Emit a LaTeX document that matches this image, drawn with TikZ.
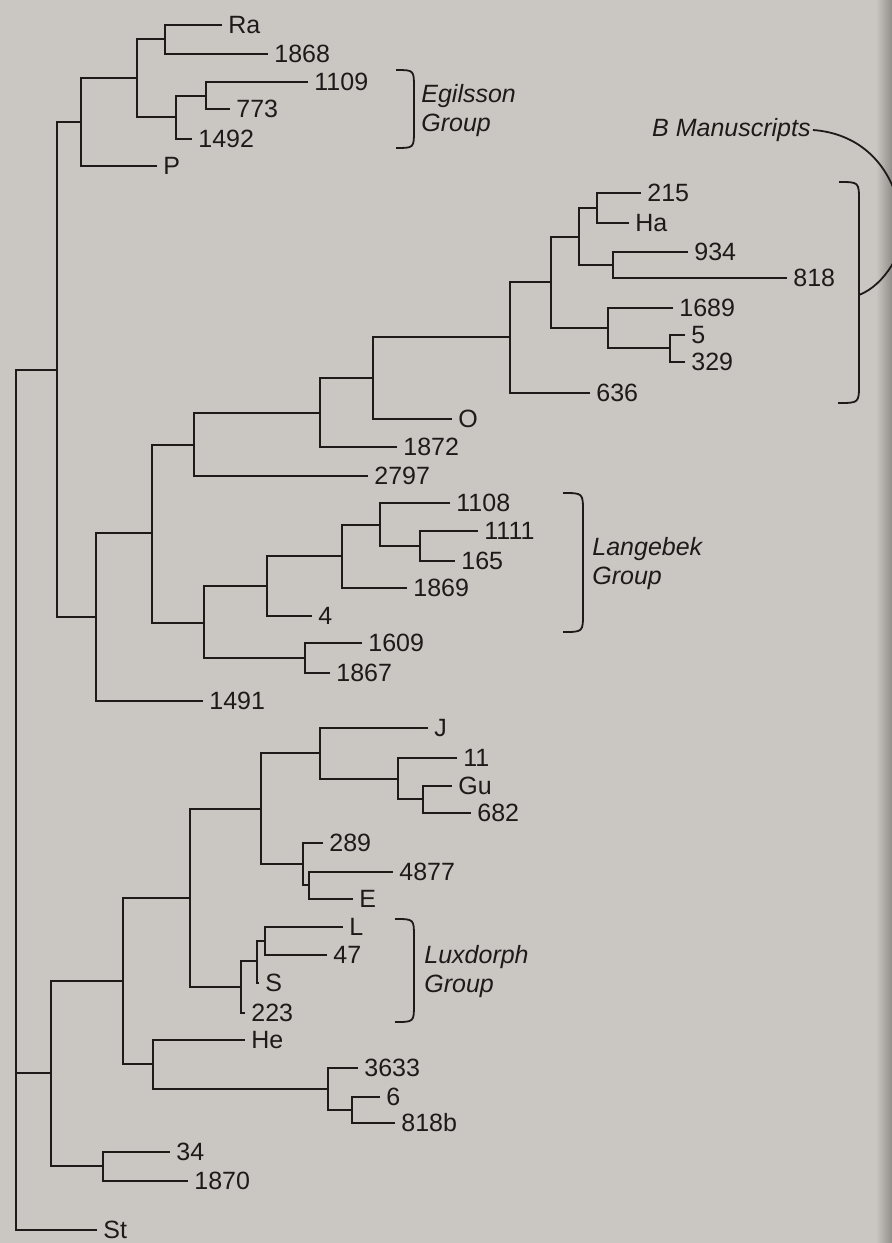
\documentclass[tikz,border=0pt]{standalone}
\usepackage{fontspec}
\setmainfont{Liberation Sans}
\definecolor{paper}{RGB}{202,198,193}
\definecolor{ink}{RGB}{30,26,26}

\begin{document}
\begin{tikzpicture}[x=0.5pt, y=-0.5pt,
  branch/.style={draw=ink, line width=1pt},
  ms/.style={anchor=west, inner xsep=3pt, inner ysep=0pt, text=ink,
             font=\fontsize{12.5}{15}\selectfont, text height=8.95pt, text depth=0pt},
  grp/.style={anchor=west, inner xsep=3pt, inner ysep=0pt, align=left, text=ink,
              font=\fontsize{12.5}{14.5}\selectfont\itshape},
  brace/.style={draw=ink, line width=0.9pt}
]
% paper
\fill[paper] (0,0) rectangle (892,1243);
\shade[left color=paper, right color=paper!72!black] (876,0) rectangle (892,1243);
\clip (0,0) rectangle (892,1243);

% inner forks, upper half
\coordinate (root) at (16,803);
\coordinate (nUp) at (57,370);
\coordinate (nP) at (81,122);
\coordinate (nA) at (137,78);
\coordinate (nRa) at (165,39);
\coordinate (nEg) at (176,117);
\coordinate (n1109) at (206,96);
\coordinate (nBig) at (96,617);
\coordinate (nMid) at (152,533);
\coordinate (nO) at (194,445);
\coordinate (n1872) at (320,413);
\coordinate (nOO) at (373,378);
\coordinate (nB) at (510,337);
\coordinate (nB1) at (551,282);
\coordinate (nB2) at (579,237);
\coordinate (n215) at (597,208);
\coordinate (n934) at (613,265);
\coordinate (n1689) at (608,328);
\coordinate (n5) at (670,348);
\coordinate (nLg) at (204,623);
\coordinate (nLg1) at (267,586);
\coordinate (nLg2) at (342,556);
\coordinate (nLg3) at (380,525);
\coordinate (n1111) at (420,546);
\coordinate (n1609) at (305,658);

% inner forks, lower half
\coordinate (nLow) at (51,1073);
\coordinate (nC) at (123,981);
\coordinate (nD) at (190,898);
\coordinate (nJ) at (261,809);
\coordinate (nJ1) at (320,753);
\coordinate (n11) at (398,779);
\coordinate (nGu) at (423,799);
\coordinate (n289) at (303,864);
\coordinate (n4877) at (309,885);
\coordinate (nLux) at (241,987);
\coordinate (nS) at (257,961);
\coordinate (nL47) at (265,941);
\coordinate (nHe) at (153,1064);
\coordinate (n3633) at (328,1089);
\coordinate (n6) at (352,1110);
\coordinate (n34) at (103,1166);

% manuscripts
\node[ms] (mRa) at (222,25) {Ra};
\node[ms] (m1868) at (268,54) {1868};
\node[ms] (m1109) at (308,82) {1109};
\node[ms] (m773) at (230,109) {773};
\node[ms] (m1492) at (192,139) {1492};
\node[ms] (mP) at (157,166) {P};
\node[ms] (m215) at (641,193) {215};
\node[ms] (mHa) at (629,223) {Ha};
\node[ms] (m934) at (688,252) {934};
\node[ms] (m818) at (787,278) {818};
\node[ms] (m1689) at (673,308) {1689};
\node[ms] (m5) at (685,335) {5};
\node[ms] (m329) at (685,362) {329};
\node[ms] (m636) at (590,393) {636};
\node[ms] (mO) at (452,419) {O};
\node[ms] (m1872) at (397,447) {1872};
\node[ms] (m2797) at (368,476) {2797};
\node[ms] (m1108) at (450,503) {1108};
\node[ms] (m1111) at (478,531) {1111};
\node[ms] (m165) at (455,561) {165};
\node[ms] (m1869) at (407,588) {1869};
\node[ms] (m4) at (312,616) {4};
\node[ms] (m1609) at (362,643) {1609};
\node[ms] (m1867) at (330,673) {1867};
\node[ms] (m1491) at (203,701) {1491};
\node[ms] (mJ) at (428,728) {J};
\node[ms] (m11) at (457,758) {11};
\node[ms] (mGu) at (452,786) {Gu};
\node[ms] (m682) at (471,813) {682};
\node[ms] (m289) at (323,843) {289};
\node[ms] (m4877) at (393,872) {4877};
\node[ms] (mE) at (353,899) {E};
\node[ms] (mL) at (343,927) {L};
\node[ms] (m47) at (327,955) {47};
\node[ms] (mS) at (259,983) {S};
\node[ms] (m223) at (245,1013) {223};
\node[ms] (mHe) at (245,1040) {He};
\node[ms] (m3633) at (358,1068) {3633};
\node[ms] (m6) at (380,1097) {6};
\node[ms] (m818b) at (395,1123) {818b};
\node[ms] (m34) at (170,1152) {34};
\node[ms] (m1870) at (188,1181) {1870};
\node[ms] (mSt) at (97,1230) {St};

% branches
\draw[branch] (root) |- (nUp) (root) |- (nLow) (root) |- (mSt);
\draw[branch] (nUp) |- (nP) (nUp) |- (nBig);
\draw[branch] (nP) |- (nA) (nP) |- (mP);
\draw[branch] (nA) |- (nRa) (nA) |- (nEg);
\draw[branch] (nRa) |- (mRa) (nRa) |- (m1868);
\draw[branch] (nEg) |- (n1109) (nEg) |- (m1492);
\draw[branch] (n1109) |- (m1109) (n1109) |- (m773);
\draw[branch] (nBig) |- (nMid) (nBig) |- (m1491);
\draw[branch] (nMid) |- (nO) (nMid) |- (nLg);
\draw[branch] (nO) |- (n1872) (nO) |- (m2797);
\draw[branch] (n1872) |- (nOO) (n1872) |- (m1872);
\draw[branch] (nOO) |- (nB) (nOO) |- (mO);
\draw[branch] (nB) |- (nB1) (nB) |- (m636);
\draw[branch] (nB1) |- (nB2) (nB1) |- (n1689);
\draw[branch] (nB2) |- (n215) (nB2) |- (n934);
\draw[branch] (n215) |- (m215) (n215) |- (mHa);
\draw[branch] (n934) |- (m934) (n934) |- (m818);
\draw[branch] (n1689) |- (m1689) (n1689) |- (n5);
\draw[branch] (n5) |- (m5) (n5) |- (m329);
\draw[branch] (nLg) |- (nLg1) (nLg) |- (n1609);
\draw[branch] (nLg1) |- (nLg2) (nLg1) |- (m4);
\draw[branch] (nLg2) |- (nLg3) (nLg2) |- (m1869);
\draw[branch] (nLg3) |- (m1108) (nLg3) |- (n1111);
\draw[branch] (n1111) |- (m1111) (n1111) |- (m165);
\draw[branch] (n1609) |- (m1609) (n1609) |- (m1867);
\draw[branch] (nLow) |- (nC) (nLow) |- (n34);
\draw[branch] (nC) |- (nD) (nC) |- (nHe);
\draw[branch] (nD) |- (nJ) (nD) |- (nLux);
\draw[branch] (nJ) |- (nJ1) (nJ) |- (n289);
\draw[branch] (nJ1) |- (mJ) (nJ1) |- (n11);
\draw[branch] (n11) |- (m11) (n11) |- (nGu);
\draw[branch] (nGu) |- (mGu) (nGu) |- (m682);
\draw[branch] (n289) |- (m289) (n289) |- (n4877);
\draw[branch] (n4877) |- (m4877) (n4877) |- (mE);
\draw[branch] (nLux) |- (nS) (nLux) |- (m223);
\draw[branch] (nS) |- (nL47) (nS) |- (mS);
\draw[branch] (nL47) |- (mL) (nL47) |- (m47);
\draw[branch] (nHe) |- (mHe) (nHe) |- (n3633);
\draw[branch] (n3633) |- (m3633) (n3633) |- (n6);
\draw[branch] (n6) |- (m6) (n6) |- (m818b);
\draw[branch] (n34) |- (m34) (n34) |- (m1870);

% groups
\draw[brace] (396,70) .. controls (414,70) .. (414,88) -- (414,130) .. controls (414,148) .. (396,148);
\node[grp] (egil) at (415,111) {Egilsson\\Group};
\draw[brace] (563,493) .. controls (583,493) .. (583,512) -- (583,613) .. controls (583,632) .. (563,632);
\node[grp] (lange) at (586,564) {Langebek\\Group};
\draw[brace] (395,919) .. controls (414,919) .. (414,937) -- (414,1004) .. controls (414,1022) .. (395,1022);
\node[grp] (luxd) at (418,972) {Luxdorph\\Group};
\draw[brace] (839,182) .. controls (859,182) .. (859,201) -- (859,384) .. controls (859,403) .. (838,403);
\coordinate (bjoin) at (859,295);
\node[grp, anchor=east, inner xsep=1pt] (bman) at (813,130) {B Manuscripts};
\draw[brace] (bman.east) .. controls (855,133) and (895,160) .. (903,226)
  .. controls (905,250) and (885,285) .. (bjoin);
\end{tikzpicture}
\end{document}
